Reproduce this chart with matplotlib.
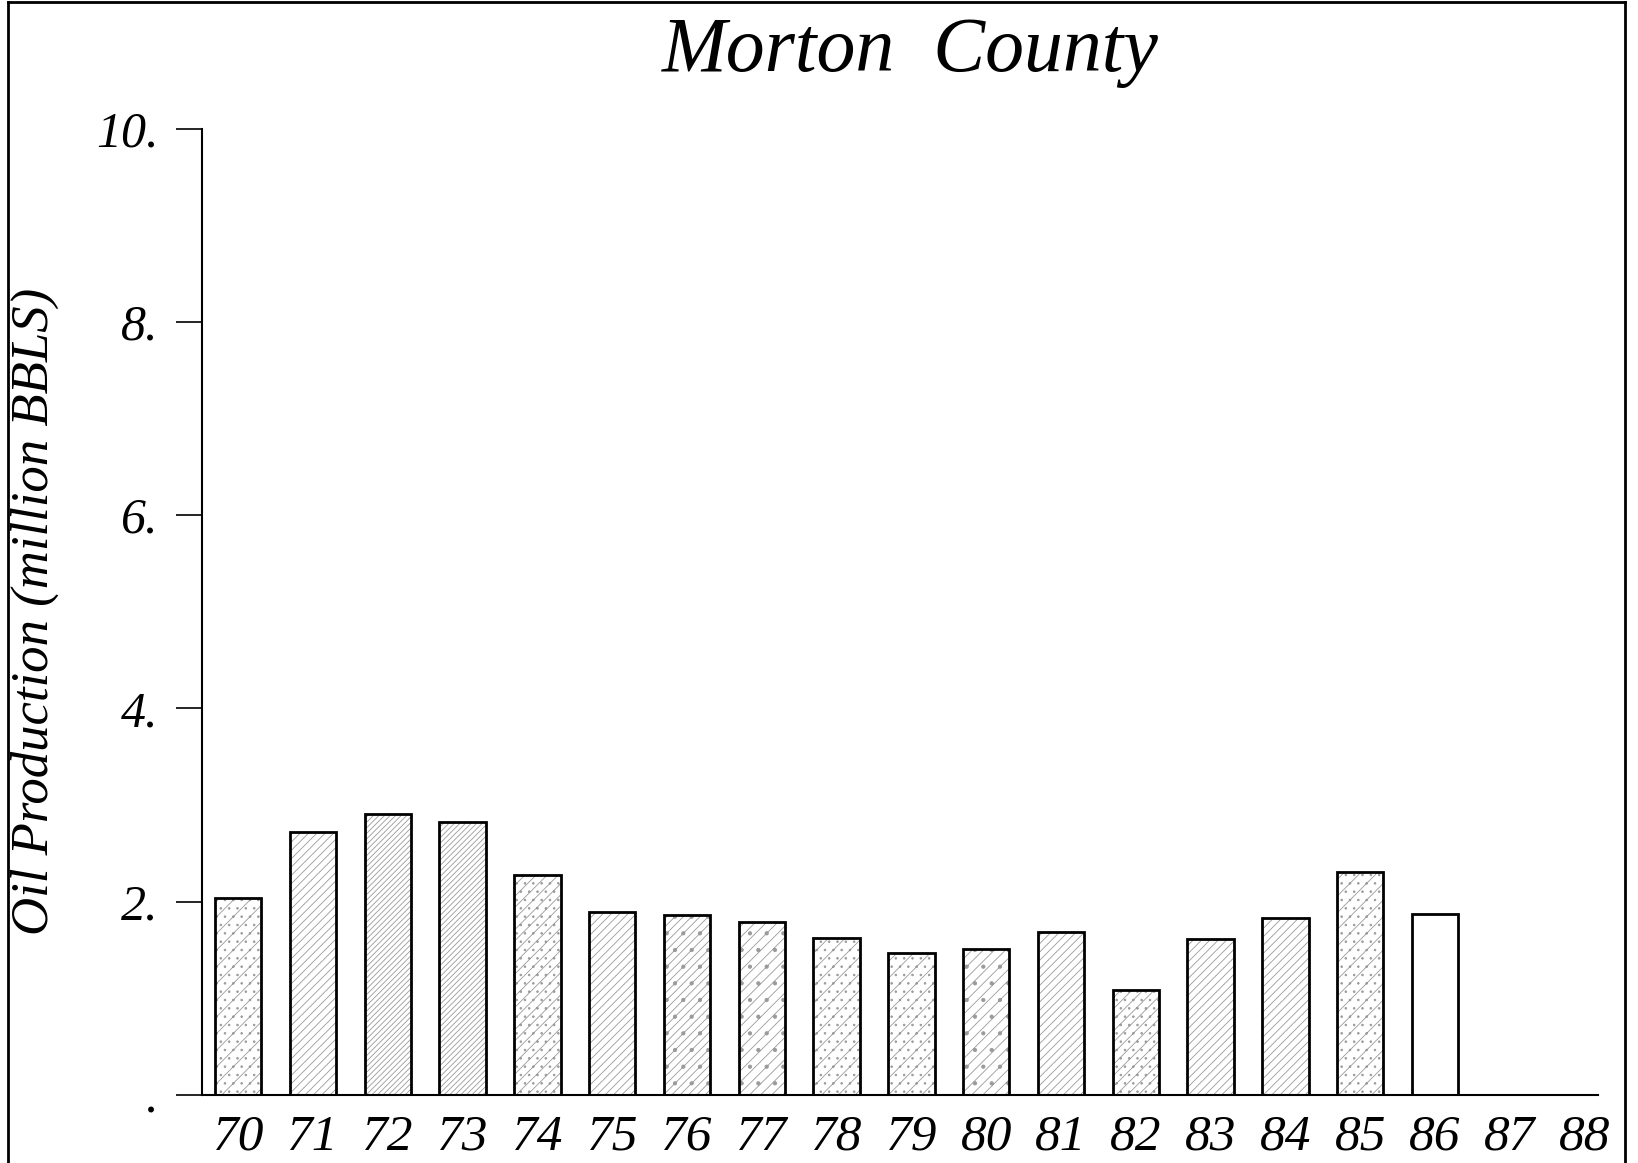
import matplotlib
matplotlib.use("Agg")
import matplotlib.pyplot as plt
import numpy as np
from matplotlib.lines import Line2D

years = [70, 71, 72, 73, 74, 75, 76, 77, 78, 79, 80, 81, 82, 83, 84, 85, 86, 87, 88]
oil = [2.04, 2.72, 2.91, 2.82, 2.27, 1.89, 1.86, 1.79, 1.62, 1.47, 1.51, 1.69,
       1.09, 1.61, 1.83, 2.31, 1.87, 0.0, 0.0]
ytick_vals = [0, 2, 4, 6, 8, 10]
ytick_labels = ['.', '2.', '4.', '6.', '8.', '10.']

# hatch style of each bar (scanned shading looks like fine diagonal/dotted screens)
hatches = ['//..', '////', '//////', '//////', '///..', '////', '////.', '///.', '//..', '//..',
           '///.', '////', '///..', '////', '////', '//..', '', '', '']

plt.rcParams['font.family'] = 'Liberation Serif'
plt.rcParams['hatch.linewidth'] = 0.6

fig = plt.figure(figsize=(16.38, 11.63), dpi=100)
ax = fig.add_axes([0.1231, 0.0586, 0.8525, 0.8309])

x = np.array(years)
width = 0.62
for xi, v, h in zip(x, oil, hatches):
    if v <= 0 or not h:
        continue
    ax.bar(xi, v, width, color='white', edgecolor='#9a9a9a', hatch=h, linewidth=0)
ax.bar(x, oil, width, color='none', edgecolor='black', linewidth=2)

ax.set_xlim(69.51, 88.18)
ax.set_ylim(0, 10)
ax.set_xticks(x)
ax.set_xticklabels([str(y) for y in years], fontsize=37, style='italic')
ax.set_yticks(ytick_vals)
ax.set_yticklabels(ytick_labels, fontsize=36, style='italic')
ax.tick_params(axis='x', length=0, pad=14)
ax.tick_params(axis='y', length=19, width=1.2, pad=12)

for s in ['top', 'right']:
    ax.spines[s].set_visible(False)
ax.spines['left'].set_linewidth(1.5)
ax.spines['bottom'].set_linewidth(1.5)

ax.set_ylabel('Oil Production (million BBLS)', fontsize=38, style='italic')
ax.yaxis.set_label_coords(-0.1025, 0.5)

fig.text(0.5557, 0.955, 'Morton  County', fontsize=56, style='italic',
         ha='center', va='center')

# outer frame of the page
fig.add_artist(Line2D([0.005, 0.005], [0.0, 0.998], color='black', lw=2))
fig.add_artist(Line2D([0.005, 0.992], [0.998, 0.998], color='black', lw=2))
fig.add_artist(Line2D([0.992, 0.992], [0.0, 0.998], color='black', lw=2))

fig.savefig('out.png', dpi=100)
